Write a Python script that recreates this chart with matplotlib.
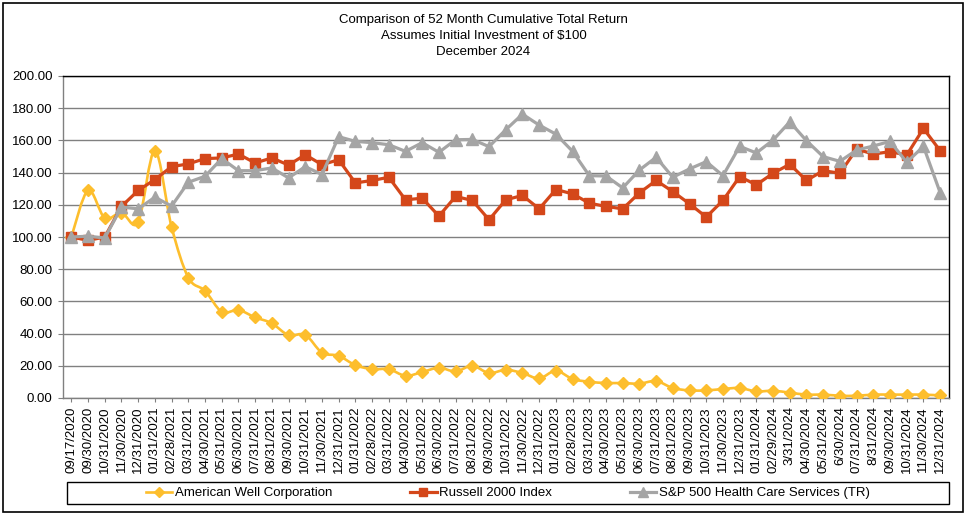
import matplotlib
matplotlib.use('Agg')
import matplotlib.pyplot as plt
import numpy as np
from matplotlib.path import Path
from matplotlib.patches import PathPatch, Rectangle
from matplotlib.lines import Line2D

plt.rcParams['font.family'] = ['Liberation Sans', 'DejaVu Sans']

dates = ["09/17/2020", "09/30/2020", "10/31/2020", "11/30/2020", "12/31/2020",
         "01/31/2021", "02/28/2021", "03/31/2021", "04/30/2021", "05/31/2021",
         "06/30/2021", "07/31/2021", "08/31/2021", "09/30/2021", "10/31/2021",
         "11/30/2021", "12/31/2021", "01/31/2022", "02/28/2022", "03/31/2022",
         "04/30/2022", "05/31/2022", "06/30/2022", "07/31/2022", "08/31/2022",
         "09/30/2022", "10/31/2022", "11/30/2022", "12/31/2022", "01/31/2023",
         "02/28/2023", "03/31/2023", "04/30/2023", "05/31/2023", "06/30/2023",
         "07/31/2023", "08/31/2023", "09/30/2023", "10/31/2023", "11/30/2023",
         "12/31/2023", "01/31/2024", "02/29/2024", "3/31/2024", "04/30/2024",
         "05/31/2024", "6/30/2024", "07/31/2024", "8/31/2024", "09/30/2024",
         "10/31/2024", "11/30/2024", "12/31/2024"]

american_well = [100.0, 128.9, 111.8, 115.1, 109.3, 153.6, 106.2, 74.8, 66.6, 53.6,
                 54.6, 50.1, 46.4, 39.0, 39.2, 28.2, 26.2, 20.4, 17.9, 17.9,
                 13.8, 16.1, 18.8, 16.5, 20.0, 15.5, 17.5, 15.5, 12.2, 16.9,
                 11.8, 10.1, 9.3, 9.3, 8.9, 10.5, 6.2, 4.7, 4.7, 5.6,
                 6.2, 4.1, 4.5, 3.3, 2.1, 2.1, 1.4, 1.4, 2.1, 2.1,
                 2.1, 2.1, 1.6]

russell_2000 = [100.0, 97.9, 100.0, 119.0, 128.9, 135.7, 143.7, 145.4, 148.7, 149.1,
                151.5, 146.0, 149.1, 144.7, 151.1, 144.9, 148.0, 133.6, 135.1, 137.1,
                123.1, 124.1, 113.0, 125.2, 122.7, 110.7, 123.1, 125.8, 117.5, 129.5,
                126.8, 121.0, 119.0, 117.5, 127.4, 135.1, 128.2, 120.6, 112.4, 122.7,
                137.5, 132.4, 139.6, 145.2, 135.1, 141.2, 139.6, 154.6, 151.5, 153.0,
                150.9, 167.4, 153.6]

sp500_hcs = [100.0, 100.5, 99.4, 118.6, 117.5, 124.7, 119.2, 134.0, 137.7, 148.7,
             141.2, 141.2, 142.9, 136.7, 143.7, 138.8, 162.3, 159.4, 158.6, 157.3,
             153.2, 158.6, 152.6, 160.4, 160.6, 156.1, 166.6, 176.3, 169.5, 163.9,
             153.2, 138.1, 137.9, 130.5, 141.6, 149.5, 137.1, 142.3, 146.8, 138.1,
             156.3, 152.2, 160.2, 171.5, 159.8, 149.9, 147.0, 154.0, 156.5, 159.4,
             146.4, 156.3, 127.6]

series_names = ["American Well Corporation", "Russell 2000 Index",
                "S&P 500 Health Care Services (TR)"]
title_lines = ["Comparison of 52 Month Cumulative Total Return",
               "Assumes Initial Investment of $100",
               "December 2024"]

C_Y = '#FDBE2D'
C_R = '#D4471A'
C_G = '#A5A5A5'

W, H = 967, 517
fig = plt.figure(figsize=(W / 100, H / 100), dpi=100)

def fx(px):
    return px / W

def fy(py):
    return 1 - py / H

# figure border
fig.patches.append(Rectangle((fx(3), fy(512)), fx(963) - fx(3), fy(3) - fy(512),
                             transform=fig.transFigure, fill=False,
                             edgecolor='black', lw=1.2))

ax = fig.add_axes([fx(63), fy(398), fx(948.5) - fx(63), fy(76) - fy(398)])
x = np.arange(len(dates))


def smooth_path(xs, ys):
    xs = list(xs)
    ys = list(ys)
    n = len(xs)
    verts = [(xs[0], ys[0])]
    codes = [Path.MOVETO]
    for i in range(n - 1):
        xm, ym = (xs[i - 1], ys[i - 1]) if i > 0 else (xs[i], ys[i])
        x2, y2 = (xs[i + 2], ys[i + 2]) if i + 2 < n else (xs[i + 1], ys[i + 1])
        c1 = (xs[i] + (xs[i + 1] - xm) / 6, ys[i] + (ys[i + 1] - ym) / 6)
        c2 = (xs[i + 1] - (x2 - xs[i]) / 6, ys[i + 1] - (y2 - ys[i]) / 6)
        verts += [c1, c2, (xs[i + 1], ys[i + 1])]
        codes += [Path.CURVE4, Path.CURVE4, Path.CURVE4]
    return Path(verts, codes)


# American Well: smoothed line
ax.add_patch(PathPatch(smooth_path(x, american_well), facecolor='none',
                       edgecolor=C_Y, lw=1.9, zorder=3))
ax.plot(x, american_well, linestyle='none', marker='D', ms=6, color=C_Y,
        zorder=3.1)
ax.plot(x, russell_2000, color=C_R, lw=2.3, marker='s', ms=6.5, zorder=4)
ax.plot(x, sp500_hcs, color=C_G, lw=2.3, marker='^', ms=8, zorder=5)

ax.set_xlim(-0.5, len(dates) - 0.5)
ax.set_ylim(0, 200)
ax.set_yticks(np.arange(0, 201, 20))
ax.set_yticklabels([f"{v:.2f}" for v in np.arange(0, 201, 20)], fontsize=9.5)
ax.set_xticks(x)
ax.set_xticklabels(dates, rotation=90, fontsize=9.5)
ax.grid(axis='y', color='#808080', lw=1)
ax.set_axisbelow(True)
for s in ['top', 'right']:
    ax.spines[s].set_color('black')
    ax.spines[s].set_linewidth(1)
for s in ['left', 'bottom']:
    ax.spines[s].set_color('#808080')
    ax.spines[s].set_linewidth(1)
ax.tick_params(axis='y', length=3.5, color='#808080', pad=4)
ax.tick_params(axis='x', length=3, color='#808080', pad=3)

for i, line in enumerate(title_lines):
    fig.text(0.5, fy(20 + 16 * i), line, ha='center', va='center', fontsize=9.5)

# legend
handles = [Line2D([], [], color=C_Y, lw=1.9, marker='D', ms=5),
           Line2D([], [], color=C_R, lw=2.3, marker='s', ms=5.5),
           Line2D([], [], color=C_G, lw=2.3, marker='^', ms=6.5)]
fig.legend(handles, series_names, loc='center', ncol=3, frameon=False,
           bbox_to_anchor=(fx(508), fy(493)), fontsize=9.5, handlelength=2.0,
           handletextpad=0.2, columnspacing=5.9, borderpad=0.2)
fig.patches.append(Rectangle((fx(67), fy(504)), fx(949) - fx(67), fy(482) - fy(504),
                             transform=fig.transFigure, fill=False,
                             edgecolor='black', lw=1))

fig.savefig('out.png', dpi=100)
